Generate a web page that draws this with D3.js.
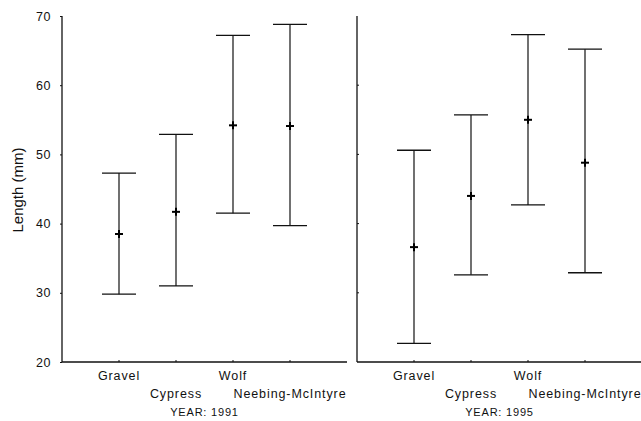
<!DOCTYPE html>
<html>
<head>
<meta charset="utf-8">
<script src="https://cdn.jsdelivr.net/npm/d3@7"></script>
<style>
  body { margin: 0; background: #fff; }
  svg text { font-family: "Liberation Sans", Arial, sans-serif; fill: #111; }
</style>
</head>
<body>
<svg id="svg" width="641" height="421"></svg>
<script>
"use strict";
const sites = ["Gravel", "Cypress", "Wolf", "Neebing-McIntyre"];
const years = ["1991", "1995"];
const mean1991 = [38.5, 41.7, 54.2, 54.1];
const low1991 = [29.8, 31.0, 41.5, 39.7];
const high1991 = [47.3, 52.9, 67.2, 68.8];
const mean1995 = [36.6, 44.0, 55.0, 48.8];
const low1995 = [22.7, 32.6, 42.7, 32.9];
const high1995 = [50.6, 55.7, 67.3, 65.2];
const yTicks = [20, 30, 40, 50, 60, 70];

const panels = [
  { year: years[0], mean: mean1991, low: low1991, high: high1991, x0: 62, x1: 347 },
  { year: years[1], mean: mean1995, low: low1995, high: high1995, x0: 357, x1: 642 }
];

const svg = d3.select("#svg");
const y = d3.scaleLinear().domain([20, 70]).range([362, 16]);
const capW = 34, plus = 4;

// y axis labels (left panel only)
const yAxis = svg.append("g").attr("transform", "translate(62,0)")
  .call(d3.axisLeft(y).tickValues(yTicks).tickSize(2).tickPadding(9));
yAxis.select(".domain").remove();
yAxis.selectAll("line").attr("stroke", "#111");
yAxis.selectAll("text").attr("font-size", 12.5).style("letter-spacing", "0.6px");

svg.append("text")
  .attr("transform", "translate(23,190) rotate(-90)")
  .attr("text-anchor", "middle")
  .attr("font-size", 15)
  .text("Length (mm)");

panels.forEach((p) => {
  const x = d3.scalePoint().domain(["", ...sites, " "]).range([p.x0, p.x1]);
  const g = svg.append("g");

  // frame: left and bottom lines
  g.append("line").attr("x1", p.x0).attr("x2", p.x0).attr("y1", y(70)).attr("y2", y(20))
    .attr("stroke", "#111").attr("stroke-width", 1.3);
  g.append("line").attr("x1", p.x0).attr("x2", p.x1).attr("y1", y(20)).attr("y2", y(20))
    .attr("stroke", "#111").attr("stroke-width", 1.3);

  if (p.x0 > 100) {
    g.selectAll(".ytick").data(yTicks.slice(1, -1)).enter().append("line")
      .attr("x1", p.x0).attr("x2", p.x0 + 2)
      .attr("y1", (d) => y(d)).attr("y2", (d) => y(d)).attr("stroke", "#111");
  }

  // x ticks
  g.selectAll(".xtick").data(sites).enter().append("line")
    .attr("x1", (d) => x(d)).attr("x2", (d) => x(d))
    .attr("y1", y(20)).attr("y2", y(20) - 2).attr("stroke", "#111");

  const rows = sites.map((s, i) => ({ s: s, i: i, m: p.mean[i], lo: p.low[i], hi: p.high[i] }));
  const bars = g.selectAll(".bar").data(rows).enter().append("g");
  bars.append("line")
    .attr("x1", (d) => x(d.s)).attr("x2", (d) => x(d.s))
    .attr("y1", (d) => y(d.hi)).attr("y2", (d) => y(d.lo))
    .attr("stroke", "#111").attr("stroke-width", 1.2);
  bars.append("line")
    .attr("x1", (d) => x(d.s) - capW / 2).attr("x2", (d) => x(d.s) + capW / 2)
    .attr("y1", (d) => y(d.hi)).attr("y2", (d) => y(d.hi))
    .attr("stroke", "#111").attr("stroke-width", 1.3);
  bars.append("line")
    .attr("x1", (d) => x(d.s) - capW / 2).attr("x2", (d) => x(d.s) + capW / 2)
    .attr("y1", (d) => y(d.lo)).attr("y2", (d) => y(d.lo))
    .attr("stroke", "#111").attr("stroke-width", 1.3);
  bars.append("line")
    .attr("x1", (d) => x(d.s) - plus).attr("x2", (d) => x(d.s) + plus)
    .attr("y1", (d) => y(d.m)).attr("y2", (d) => y(d.m))
    .attr("stroke", "#000").attr("stroke-width", 2);
  bars.append("line")
    .attr("x1", (d) => x(d.s)).attr("x2", (d) => x(d.s))
    .attr("y1", (d) => y(d.m) - plus).attr("y2", (d) => y(d.m) + plus)
    .attr("stroke", "#000").attr("stroke-width", 2);

  // category labels, staggered
  g.selectAll(".lab").data(sites).enter().append("text")
    .attr("x", (d) => x(d))
    .attr("y", (d, i) => i % 2 === 0 ? 380 : 398)
    .attr("text-anchor", "middle")
    .attr("font-size", 12.5)
    .style("letter-spacing", "0.9px")
    .text((d) => d);

  svg.append("text")
    .attr("x", (x(sites[1]) + x(sites[2])) / 2)
    .attr("y", 416)
    .attr("text-anchor", "middle")
    .attr("font-size", 11)
    .style("letter-spacing", "0.8px")
    .text("YEAR: " + p.year);
});
</script>
</body>
</html>
